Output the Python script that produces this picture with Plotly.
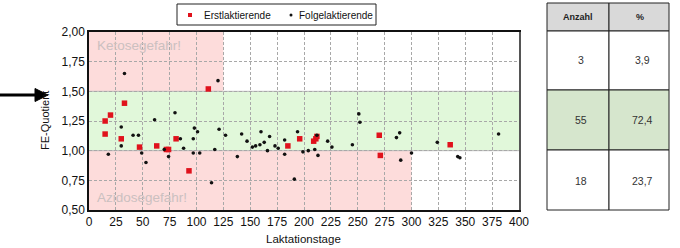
import plotly.graph_objects as go

# ---------------- data ----------------
erst_tage = [15, 20, 15, 30, 33, 47, 63, 72, 74, 81, 93, 111, 185, 196, 209, 211, 212, 270, 271, 336]
erst_fe = [1.25, 1.30, 1.14, 1.10, 1.40, 1.03, 1.04, 1.01, 1.01, 1.10, 0.83, 1.52, 1.04, 1.10, 1.08, 1.10, 1.12, 1.13, 0.96, 1.05]

folge_tage = [18, 30, 30, 33, 41, 46, 49, 53, 61, 70, 74, 80, 85, 88, 97, 98, 101, 97, 103, 114,
              117, 121, 120, 127, 138, 142, 147, 152, 155, 159, 160, 163, 166, 168, 173, 176, 182, 182, 191, 194,
              199, 204, 210, 212, 213, 222, 226, 245, 251, 252, 286, 289, 290, 300, 324, 343, 345, 381]
folge_fe = [0.97, 1.20, 1.04, 1.65, 1.13, 1.13, 0.98, 0.90, 1.26, 1.01, 0.95, 1.32, 1.10, 1.02, 1.10, 1.19, 1.16, 0.98, 0.98, 0.73,
            1.01, 1.18, 1.59, 1.13, 0.95, 1.14, 1.08, 1.03, 1.04, 1.05, 1.16, 1.07, 1.00, 1.12, 1.04, 1.02, 1.09, 0.97, 0.76, 1.16,
            0.99, 1.00, 1.01, 1.13, 0.96, 1.08, 1.03, 1.05, 1.31, 1.24, 1.11, 1.15, 0.92, 0.98, 1.07, 0.95, 0.94, 1.14]

x_ticks = [0, 25, 50, 75, 100, 125, 150, 175, 200, 225, 250, 275, 300, 325, 350, 375, 400]
y_ticks = [0.50, 0.75, 1.00, 1.25, 1.50, 1.75, 2.00]

table_header = ["Anzahl", "%"]
table_anzahl = ["3", "55", "18"]
table_prozent = ["3,9", "72,4", "23,7"]

# zones: (x0, x1, y0, y1)
zone_keto = (0, 125, 1.5, 2.0)
zone_ok = (0, 400, 1.0, 1.5)
zone_azido = (0, 300, 0.5, 1.0)

# ---------------- layout helpers (pixel -> paper) ----------------
W, H = 680, 248
L, R, T, B = 89, 519, 32, 210


def px(xp):
    return (xp - L) / (R - L)


def py(yp):
    return (B - yp) / (B - T)


FONT = "Liberation Sans, Arial, sans-serif"
PINK = "#fddcdb"
GREEN = "#e1f8da"

fig = go.Figure()

fig.add_trace(go.Scatter(
    x=erst_tage, y=erst_fe, mode="markers", name="Erstlaktierende",
    marker=dict(symbol="square", size=5.5, color="#e0121c"), showlegend=False))
fig.add_trace(go.Scatter(
    x=folge_tage, y=folge_fe, mode="markers", name="Folgelaktierende",
    marker=dict(symbol="circle", size=3.6, color="#111111"), showlegend=False))

shapes = []
for (x0, x1, y0, y1), col in [(zone_keto, PINK), (zone_ok, GREEN), (zone_azido, PINK)]:
    shapes.append(dict(type="rect", xref="x", yref="y", x0=x0, x1=x1, y0=y0, y1=y1,
                       fillcolor=col, line=dict(width=0), layer="below"))
for yv in (1.0, 1.5):
    shapes.append(dict(type="line", xref="x", yref="y", x0=0, x1=400, y0=yv, y1=yv,
                       line=dict(color="#b8b8b8", width=1), layer="below"))

# right frame shadow
shapes.append(dict(type="line", xref="paper", yref="paper", x0=px(520), x1=px(520), y0=py(32), y1=py(210),
                   line=dict(color="#555555", width=2)))

# legend (manual box)
shapes.append(dict(type="rect", xref="paper", yref="paper", x0=px(177), x1=px(376), y0=py(25), y1=py(4),
                   fillcolor="white", line=dict(color="#222222", width=1)))
shapes.append(dict(type="rect", xref="paper", yref="paper", x0=px(188), x1=px(192), y0=py(17), y1=py(13),
                   fillcolor="#e0121c", line=dict(width=0)))
shapes.append(dict(type="circle", xref="paper", yref="paper", x0=px(289.5), x1=px(292.5), y0=py(16.5), y1=py(13.5),
                   fillcolor="#111111", line=dict(width=0)))

# arrow
shapes.append(dict(type="line", xref="paper", yref="paper", x0=px(0), x1=px(38), y0=py(95), y1=py(95),
                   line=dict(color="black", width=3)))
shapes.append(dict(type="path", xref="paper", yref="paper",
                   path=f"M {px(35)} {py(88.5)} L {px(48)} {py(95)} L {px(35)} {py(101.5)} Z",
                   fillcolor="black", line=dict(color="black", width=1)))

# table
tx = [547, 609, 669]
ty = [3, 31, 90, 150, 210]
row_fills = ["#d9d9d9", "white", "#d6e6cd", "white"]
for r in range(4):
    for c in range(2):
        shapes.append(dict(type="rect", xref="paper", yref="paper",
                           x0=px(tx[c]), x1=px(tx[c + 1]), y0=py(ty[r + 1]), y1=py(ty[r]),
                           fillcolor=row_fills[r], line=dict(color="#222222", width=1)))

annotations = []
annotations.append(dict(text="Ketosegefahr!", xref="paper", yref="paper", x=px(95), y=py(46),
                        xanchor="left", yanchor="middle", showarrow=False,
                        font=dict(family=FONT, size=13.5, color="#cbc0c0")))
annotations.append(dict(text="Azidosegefahr!", xref="paper", yref="paper", x=px(95), y=py(197),
                        xanchor="left", yanchor="middle", showarrow=False,
                        font=dict(family=FONT, size=13.5, color="#cbc0c0")))
annotations.append(dict(text="Erstlaktierende", xref="paper", yref="paper", x=px(202), y=py(15),
                        xanchor="left", yanchor="middle", showarrow=False,
                        font=dict(family=FONT, size=10, color="#111111")))
annotations.append(dict(text="Folgelaktierende", xref="paper", yref="paper", x=px(297), y=py(15),
                        xanchor="left", yanchor="middle", showarrow=False,
                        font=dict(family=FONT, size=10, color="#111111")))
annotations.append(dict(text="FE-Quotient", xref="paper", yref="paper", x=px(45), y=py(121),
                        xanchor="center", yanchor="middle", textangle=-90, showarrow=False,
                        font=dict(family=FONT, size=11, color="#111111")))
annotations.append(dict(text="Laktationstage", xref="paper", yref="paper", x=px(303), y=py(239),
                        xanchor="center", yanchor="middle", showarrow=False,
                        font=dict(family=FONT, size=11.5, color="#111111")))

# table text
ccx = [581, 642]
rcy = [17, 60, 120, 181]
for c in range(2):
    annotations.append(dict(text=f"<b>{table_header[c]}</b>", xref="paper", yref="paper",
                            x=px(ccx[c] - 3 if c == 0 else ccx[c] - 2), y=py(rcy[0]),
                            xanchor="center", yanchor="middle", showarrow=False,
                            font=dict(family=FONT, size=9, color="#222222")))
for r in range(3):
    annotations.append(dict(text=table_anzahl[r], xref="paper", yref="paper", x=px(ccx[0]), y=py(rcy[r + 1]),
                            xanchor="center", yanchor="middle", showarrow=False,
                            font=dict(family=FONT, size=10.5, color="#333333")))
    annotations.append(dict(text=table_prozent[r], xref="paper", yref="paper", x=px(ccx[1]), y=py(rcy[r + 1]),
                            xanchor="center", yanchor="middle", showarrow=False,
                            font=dict(family=FONT, size=10.5, color="#333333")))

fig.update_layout(
    width=W, height=H,
    margin=dict(l=L, r=W - R, t=T, b=H - B, autoexpand=False),
    paper_bgcolor="white", plot_bgcolor="white",
    separators=",.",
    font=dict(family=FONT, size=11, color="#111111"),
    shapes=shapes, annotations=annotations,
    showlegend=False,
)
fig.update_xaxes(range=[0, 400], tickvals=x_ticks, ticktext=[str(v) for v in x_ticks],
                 showgrid=True, gridcolor="#a8a8a8", griddash="3px,2px", gridwidth=1,
                 showline=True, linecolor="#111111", linewidth=1.5, mirror=True,
                 zeroline=False, ticks="", tickfont=dict(size=12), automargin=False)
fig.update_yaxes(range=[0.5, 2.0], tickvals=y_ticks, tickformat=".2f",
                 showgrid=True, gridcolor="#a8a8a8", griddash="3px,2px", gridwidth=1,
                 showline=True, linecolor="#111111", linewidth=1.5, mirror=True,
                 zeroline=False, ticks="", tickfont=dict(size=12), automargin=False)

fig.write_html("out.html", config={"displayModeBar": False},
               post_script="document.body.style.margin='0';document.body.style.overflow='hidden';")
